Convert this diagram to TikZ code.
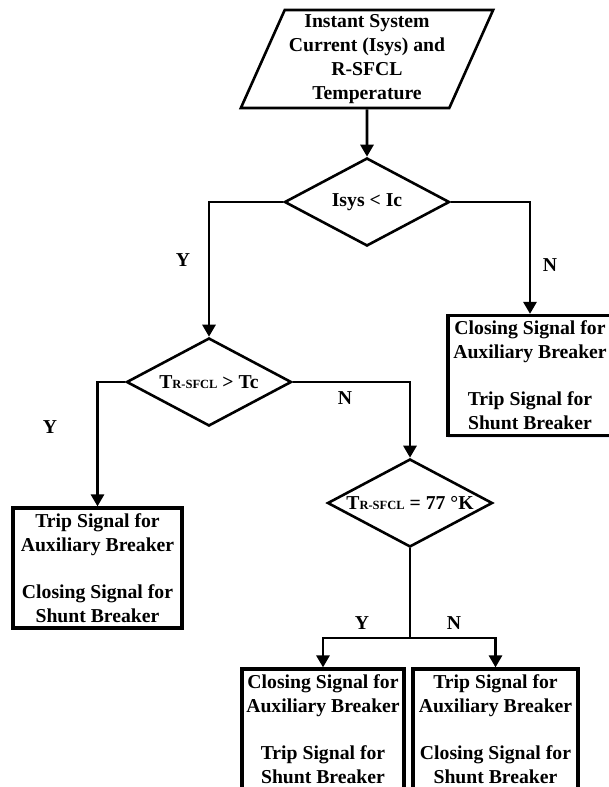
\documentclass[tikz,border=0pt]{standalone}
\usepackage{fontspec}
\setmainfont{Liberation Serif}
\usetikzlibrary{shapes.geometric,arrows.meta,shadows}
\begin{document}
\begin{tikzpicture}[x=1pt,y=-1pt,
  every node/.style={font=\fontsize{19.7}{24}\selectfont\bfseries, inner sep=0pt},
  conn/.style={line width=2.8pt},
  arr/.style={conn,-{Triangle[width=13pt,length=12pt]}},
  dec/.style={draw, line width=2.6pt, shape=diamond, aspect=2, minimum width=165pt, minimum height=88pt, fill=white},
  outbox/.style={draw, line width=3.2pt, fill=white, align=center, minimum height=120pt,
     drop shadow={opacity=0.12, fill=blue!40!gray, shadow xshift=0pt, shadow yshift=-2pt}},
  lab/.style={}
]
\useasboundingbox (0,0) rectangle (609,787);
% input
\node[draw, line width=2.6pt, shape=trapezium, trapezium left angle=65, trapezium right angle=115,
      trapezium stretches=true, minimum width=253pt, minimum height=98pt, align=center]
  (inp) at (367,59) {Instant System\\Current (Isys) and\\R-SFCL\\Temperature};
% decisions
\node[dec] (d1) at (367,202) {Isys < Ic};
\node[dec] (d2) at (209,382) {T\fontsize{12.5}{12}\selectfont R-SFCL\fontsize{19.7}{24}\selectfont{} > Tc};
\node[dec] (d3) at (410,503) {T\fontsize{12.5}{12}\selectfont R-SFCL\fontsize{19.7}{24}\selectfont{} = 77 °K};
% outcome boxes
\node[outbox, minimum width=164pt] (b1) at (530,375.5) {Closing Signal for\\Auxiliary Breaker\\[23pt]Trip Signal for\\Shunt Breaker};
\node[outbox, minimum width=169pt] (b2) at (97.5,568) {Trip Signal for\\Auxiliary Breaker\\[23pt]Closing Signal for\\Shunt Breaker};
\node[outbox, minimum width=162pt] (b3) at (323,729) {Closing Signal for\\Auxiliary Breaker\\[23pt]Trip Signal for\\Shunt Breaker};
\node[outbox, minimum width=165pt] (b4) at (495.5,729) {Trip Signal for\\Auxiliary Breaker\\[23pt]Closing Signal for\\Shunt Breaker};
% connectors
\draw[arr] (inp.south) -- (d1.north);
\draw[arr] (d1.west) -| (d2.north);
\draw[arr] (d1.east) -| (b1.north);
\draw[arr] (d2.west) -| (b2.north);
\draw[arr] (d2.east) -| (d3.north);
\coordinate (j) at (410,638);
\draw[conn] (d3.south) -- (j);
\draw[arr] (j) -| (b3.north);
\draw[arr] (j) -| (b4.north);
% labels
\node[lab] (ly1) at (183,260) {Y};
\node[lab] (ln1) at (550,265) {N};
\node[lab] (ly2) at (50,427) {Y};
\node[lab] (ln2) at (345,398) {N};
\node[lab] (ly3) at (362,623) {Y};
\node[lab] (ln3) at (454,623) {N};
\end{tikzpicture}
\end{document}
